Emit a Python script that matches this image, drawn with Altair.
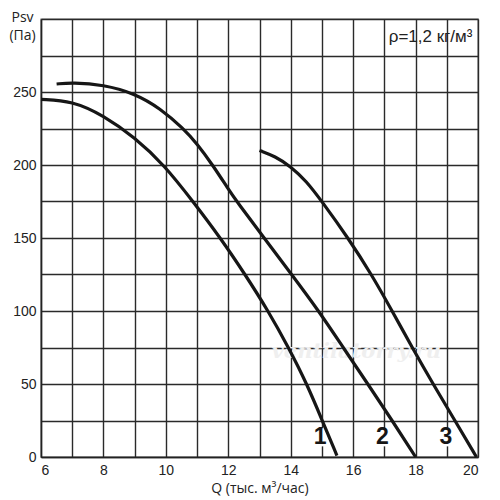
import altair as alt
import pandas as pd

# Curve 1
q1 = [6, 7, 8, 9, 9.95, 10.87, 11.75, 12.54, 13.28, 13.93, 14.52, 15.01, 15.48]
p1 = [245, 244, 234, 219, 200, 175, 150, 125, 100, 75, 50, 25, 1]
# Curve 2
q2 = [6.5, 7, 8, 9, 9.82, 10.56, 11, 11.5, 12, 12.27, 13.15, 14.03, 14.9, 15.68, 16.47, 17.25, 18.0]
p2 = [255.5, 256.5, 255, 249, 238.8, 225, 214.5, 200, 183.5, 175, 150, 125, 100, 75, 50, 25, 0]
# Curve 3
q3 = [13, 13.5, 14, 14.5, 15, 15.84, 16.59, 17.25, 17.89, 18.56, 19.26, 19.95]
p3 = [210, 206, 199, 189, 175, 150, 125, 100, 75, 50, 25, 0]

curve_labels = ["1", "2", "3"]
label_q = [14.94, 16.94, 18.97]
label_p = [13.5, 13.5, 13.5]

x_ticks = list(range(6, 21))
y_ticks = list(range(0, 301, 25))

rows = []
for name, qs, ps in (("1", q1, p1), ("2", q2, p2), ("3", q3, p3)):
    for i, (q, p) in enumerate(zip(qs, ps)):
        rows.append({"curve": name, "Q": q, "P": p, "order": i})
curves = pd.DataFrame(rows)
labels = pd.DataFrame({"text": curve_labels, "Q": label_q, "P": label_p})

FONT = "Liberation Sans"

x_enc = alt.X("Q:Q", scale=alt.Scale(domain=[6, 20], nice=False, zero=False),
              axis=alt.Axis(values=x_ticks, grid=True, tickSize=0, labelPadding=6,
                            labelExpr="datum.value % 2 == 0 ? datum.label : ''",
                            title="Q (тыс. м³/час)", titleFont="Open Sans",
                            titleFontSize=14, titleFontWeight="normal", titlePadding=4,
                            labelFont=FONT, labelFontSize=14, labelColor="#222",
                            titleColor="#222"))
y_enc = alt.Y("P:Q", scale=alt.Scale(domain=[0, 300], nice=False),
              axis=alt.Axis(values=y_ticks, grid=True, tickSize=0, labelPadding=5,
                            labelExpr="(datum.value % 50 == 0 && datum.value < 300) ? datum.label : ''",
                            title=["Psv", "(Па)"], titleAngle=0, titleAlign="center",
                            titleBaseline="alphabetic", titleX=-19, titleY=2,
                            titleLineHeight=18, titleFont="Open Sans", titleFontSize=14,
                            titleFontWeight="normal", labelFont=FONT, labelFontSize=14,
                            labelColor="#222", titleColor="#222"))

lines = alt.Chart(curves).mark_line(interpolate="basis", strokeWidth=3.2,
                                    color="#161616", strokeCap="butt").encode(
    x=x_enc, y=y_enc, detail="curve:N", order="order:Q")

boxes = alt.Chart(labels).mark_square(size=330, color="white", opacity=1, filled=True).encode(
    x=x_enc, y=y_enc)

label_text = alt.Chart(labels).mark_text(font=FONT, fontSize=23, fontWeight="bold",
                                         color="#161616", baseline="middle").encode(
    x=x_enc, y=y_enc, text="text:N")

rho = alt.Chart(pd.DataFrame({"t": ["ρ=1,2 кг/м³"], "Q": [19.82], "P": [287.5]})).mark_text(
    font=FONT, fontSize=17, align="right", baseline="middle", color="#222").encode(
    x=x_enc, y=y_enc, text="t:N")

wm = alt.Chart(pd.DataFrame({"t": ["ventilatorry.ru"], "Q": [16.1], "P": [72]})).mark_text(
    font="DejaVu Serif", fontSize=21, fontStyle="italic", fontWeight="bold",
    align="center", baseline="middle", color="#efefef").encode(
    x=x_enc, y=y_enc, text="t:N")

chart = alt.layer(boxes, wm, lines, label_text, rho).properties(
    width=437, height=438,
    autosize=alt.AutoSizeParams(type="none"),
    padding={"left": 33, "top": 11, "right": 10, "bottom": 45},
).configure_axis(
    gridColor="#2a2a2a", gridWidth=1.4, gridOpacity=1,
    domainColor="#222", domainWidth=1.4,
).configure_view(stroke="#777", strokeWidth=1.4)

chart.save("out.html", embed_options={"renderer": "svg", "actions": False})
